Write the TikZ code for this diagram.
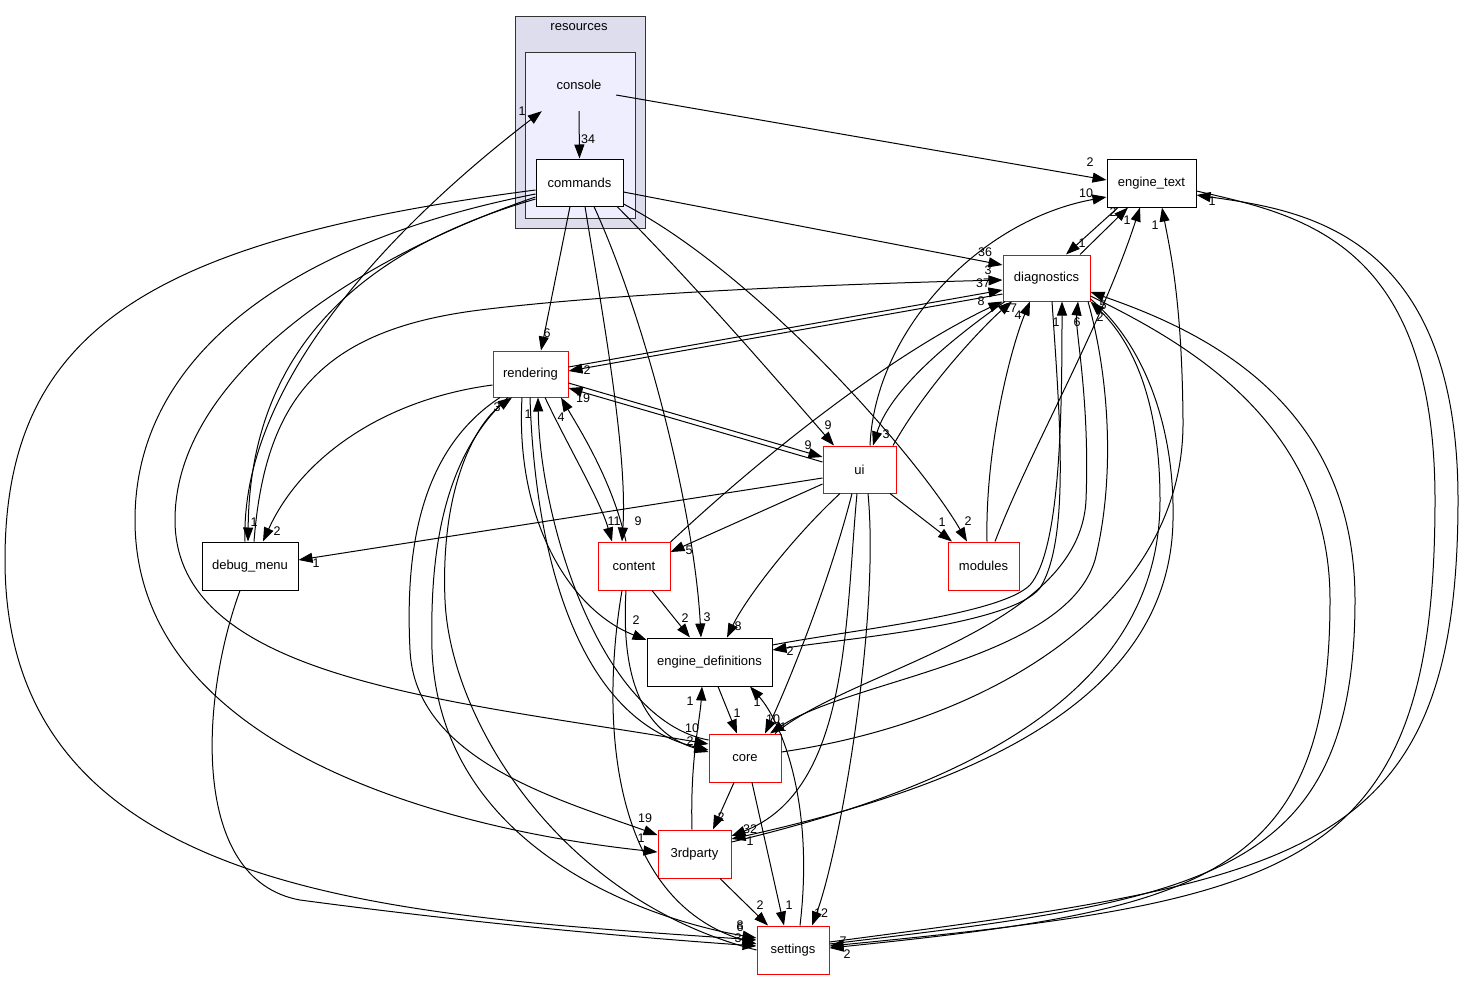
\documentclass[tikz,border=0pt]{standalone}
\usepackage{fontspec}
\setmainfont{Liberation Sans}
\usetikzlibrary{arrows.meta}
\newcommand\nodefont{\fontsize{13}{15}\selectfont}
\newcommand\labfont{\fontsize{12.5}{14}\selectfont}
\definecolor{clusterA}{HTML}{DDDDEE}
\definecolor{clusterB}{HTML}{EEEEFF}
\definecolor{clusterLine}{HTML}{333333}
\begin{document}
\begin{tikzpicture}[x=1pt,y=-1pt,
  box/.style={draw=black, line width=1pt, fill=white, minimum height=47pt, inner sep=0pt, font=\nodefont},
  rbox/.style={box, draw=red},
  e/.style={-{Triangle[length=14pt,width=10pt]}, line width=1pt},
  lab/.style={font=\labfont, inner sep=0pt},
]
\useasboundingbox (0,0) rectangle (1464,980);
\fill[white] (0,0) rectangle (1464,980);
% clusters
\draw[fill=clusterA, draw=clusterLine, line width=0.9pt] (515,16) rectangle (645,228);
\node[font=\nodefont] (resources) at (579,27) {resources};
\draw[fill=clusterB, draw=clusterLine, line width=0.9pt] (525,52) rectangle (635,218);
\node[font=\nodefont, minimum width=74pt, minimum height=52pt, inner sep=0pt] (console) at (579,85) {console};
% nodes
\node[box, minimum width=87pt] (commands) at (579.5,182.5) {commands};
\node[box, minimum width=89pt, minimum height=48pt] (enginetext) at (1151.5,183) {engine\_text};
\node[rbox, minimum width=87pt, minimum height=46pt] (diagnostics) at (1046.5,278) {diagnostics};
\node[rbox, minimum width=75pt, minimum height=46pt] (rendering) at (530.5,374) {rendering};
\node[rbox, minimum width=73pt] (ui) at (859.5,469.5) {ui};
\node[box, minimum width=96pt, minimum height=48pt] (debugmenu) at (250,566) {debug\_menu};
\node[rbox, minimum width=72pt, minimum height=48pt] (content) at (634,566) {content};
\node[rbox, minimum width=71pt, minimum height=48pt] (modules) at (983.5,566) {modules};
\node[box, minimum width=125pt, minimum height=48pt] (enginedefs) at (709.5,662) {engine\_definitions};
\node[rbox, minimum width=72pt, minimum height=48pt] (core) at (745,758) {core};
\node[rbox, minimum width=73pt, minimum height=48pt] (thirdparty) at (694.5,854) {3rdparty};
\node[rbox, minimum width=72pt, minimum height=48pt] (settings) at (793,950) {settings};

% console edges
\draw[e] (console.south) -- (commands.north) node[lab] at (588,139) {34};
\draw[e] (console.east |- 0,95) -- (enginetext.west |- 0,180) node[lab] at (1090,162) {2};
\draw[e] (debugmenu.north -| 245,0) .. controls (240,380) and (400,220) .. (console.south west) node[lab] at (522,111) {1};

% commands edges
\draw[e] (commands.west |- 0,199) .. controls (360,250) and (250,350) .. (debugmenu.north -| 248,0) node[lab] at (254,522) {1};
\draw[e] (commands.west |- 0,190) .. controls (150,240) and (5,330) .. (5,560) .. controls (5,900) and (400,915) .. (settings.west |- 0,940) node[lab] at (740,927) {6};
\draw[e] (commands.west |- 0,194) .. controls (300,240) and (135,350) .. (135,520) .. controls (135,750) and (450,830) .. (thirdparty.west |- 0,852) node[lab] at (641,838) {1};
\draw[e] (commands.west |- 0,197) .. controls (350,260) and (175,380) .. (175,520) .. controls (175,680) and (450,700) .. (core.west |- 0,744) node[lab] at (692,728) {10};
\draw[e] (commands.south -| 570,0) -- (rendering.north -| 541,0) node[lab] at (547,333) {6};
\draw[e] (commands.south -| 585,0) .. controls (600,300) and (628,450) .. (content.north -| 622,0) node[lab] at (638,521) {9};
\draw[e] (commands.south -| 594,0) .. controls (650,330) and (695,520) .. (enginedefs.north -| 701,0) node[lab] at (707,617) {3};
\draw[e] (commands.south -| 617,0) .. controls (700,290) and (790,395) .. (ui.north -| 834,0) node[lab] at (828,425) {9};
\draw[e] (commands.east |- 0,204) .. controls (760,275) and (920,460) .. (modules.north -| 967,0) node[lab] at (968,521) {2};
\draw[e] (commands.east |- 0,192) -- (diagnostics.west |- 0,265) node[lab] at (985,252) {36};

% debug_menu edges
\draw[e] (debugmenu.north -| 254,0) .. controls (265,400) and (320,330) .. (480,310) .. controls (600,295) and (800,285) .. (diagnostics.west |- 0,280) node[lab] at (988,270) {3};
\draw[e] (debugmenu.south -| 240,0) .. controls (200,700) and (190,880) .. (300,900) .. controls (450,920) and (600,935) .. (settings.west |- 0,946) node[lab] at (738,938) {3};

% rendering edges
\draw[e] (rendering.west |- 0,385) .. controls (380,400) and (300,460) .. (debugmenu.north -| 263,0) node[lab] at (277,531) {2};
\draw[e] (rendering.east |- 0,367) -- (diagnostics.west |- 0,290) node[lab] at (983,283) {37};
\draw[e] (diagnostics.west |- 0,294) -- (rendering.east |- 0,371) node[lab] at (587,370) {2};
\draw[e] (rendering.east |- 0,383) -- (ui.west |- 0,457) node[lab] at (808,445) {9};
\draw[e] (ui.west |- 0,462) -- (rendering.east |- 0,388) node[lab] at (583,398) {19};
\draw[e] (rendering.south -| 545,0) .. controls (570,450) and (600,500) .. (content.north -| 612,0) node[lab] at (614,521) {11};
\draw[e] (content.north -| 626,0) .. controls (612,480) and (580,430) .. (rendering.south -| 561,0) node[lab] at (561,417) {4};
\draw[e] (rendering.south -| 522,0) .. controls (515,520) and (570,610) .. (enginedefs.west |- 0,640) node[lab] at (636,620) {2};
\draw[e] (rendering.south -| 530,0) .. controls (535,560) and (580,720) .. (core.west |- 0,750) node[lab] at (690,741) {2};
\draw[e] (core.west |- 0,740) .. controls (600,720) and (540,520) .. (rendering.south -| 538,0) node[lab] at (528,414) {1};
\draw[e] (rendering.south -| 500,0) .. controls (420,450) and (405,550) .. (410,650) .. controls (415,760) and (560,800) .. (thirdparty.west |- 0,835) node[lab] at (645,818) {19};
\draw[e] (rendering.south -| 508,0) .. controls (440,460) and (430,560) .. (432,650) .. controls (440,850) and (650,920) .. (settings.west |- 0,938) node[lab] at (740,925) {8};
\draw[e] (settings.west |- 0,950) .. controls (560,900) and (450,720) .. (445,600) .. controls (440,480) and (480,420) .. (rendering.south -| 512,0) node[lab] at (497,407) {3};

% content edges
\draw[e] (content.north east |- 0,542) .. controls (780,440) and (900,350) .. (diagnostics.south west) node[lab] at (981,301) {8};
\draw[e] (content.south -| 652,0) -- (enginedefs.north -| 690,0) node[lab] at (685,618) {2};
\draw[e] (content.south -| 626,0) .. controls (620,690) and (650,735) .. (core.west |- 0,752);
\draw[e] (content.south -| 622,0) .. controls (600,720) and (610,900) .. (settings.west |- 0,944);

% ui edges
\draw[e] (ui.west |- 0,478) -- (debugmenu.east |- 0,560) node[lab] at (316,563) {1};
\draw[e] (ui.north -| 870,0) .. controls (875,330) and (980,220) .. (enginetext.west |- 0,197) node[lab] at (1086,193) {10};
\draw[e] (ui.north -| 893,0) .. controls (930,380) and (990,320) .. (diagnostics.south -| 1012,0) node[lab] at (1010,308) {17};
\draw[e] (diagnostics.south -| 1005,0) .. controls (950,340) and (890,390) .. (ui.north -| 873,0) node[lab] at (886,434) {3};
\draw[e] (ui.west |- 0,484) -- (content.east |- 0,552) node[lab] at (689,550) {5};
\draw[e] (ui.south -| 840,0) .. controls (790,540) and (745,600) .. (enginedefs.north -| 727,0) node[lab] at (738,626) {8};
\draw[e] (ui.south -| 890,0) -- (modules.north -| 952,0) node[lab] at (942,522) {1};
\draw[e] (ui.south -| 852,0) .. controls (830,580) and (790,680) .. (core.north -| 765,0) node[lab] at (773,719) {10};
\draw[e] (ui.south -| 857,0) .. controls (845,620) and (850,790) .. (thirdparty.east |- 0,836) node[lab] at (750,829) {32};
\draw[e] (ui.south -| 868,0) .. controls (880,620) and (840,850) .. (settings.north -| 812,0) node[lab] at (821,913) {12};

% diagnostics <-> engine_text
\draw[e] (diagnostics.north -| 1080,0) -- (enginetext.south -| 1128,0) node[lab] at (1113,212) {2};
\draw[e] (enginetext.south -| 1118,0) -- (diagnostics.north -| 1066,0) node[lab] at (1082,243) {1};
\draw[e] (modules.north -| 995,0) .. controls (1030,450) and (1100,330) .. (enginetext.south -| 1140,0) node[lab] at (1127,220) {1};
\draw[e] (core.east |- 0,752) .. controls (1000,720) and (1185,600) .. (1183,420) .. controls (1182,300) and (1170,250) .. (enginetext.south -| 1162,0) node[lab] at (1155,225) {1};
\draw[e] (settings.east |- 0,942) .. controls (1300,880) and (1458,860) .. (1458,500) .. controls (1458,230) and (1300,210) .. (enginetext.east |- 0,195) node[lab] at (1212,201) {1};
\draw[e] (enginetext.east |- 0,191) .. controls (1300,215) and (1435,240) .. (1435,500) .. controls (1435,870) and (1300,900) .. (settings.east |- 0,946) node[lab] at (847,954) {2};
\draw[e] (settings.east |- 0,944) .. controls (1200,900) and (1355,880) .. (1355,600) .. controls (1355,400) and (1200,330) .. (diagnostics.east |- 0,292) node[lab] at (1103,305) {5};
\draw[e] (diagnostics.east |- 0,296) .. controls (1180,340) and (1330,420) .. (1330,600) .. controls (1330,880) and (1200,910) .. (settings.east |- 0,948) node[lab] at (843,941) {7};

% modules -> diagnostics
\draw[e] (modules.north -| 987,0) .. controls (985,450) and (1010,350) .. (diagnostics.south -| 1030,0) node[lab] at (1018,315) {4};

% engine_definitions <-> diagnostics
\draw[e] (enginedefs.east |- 0,645) .. controls (850,630) and (1000,615) .. (1030,585) .. controls (1060,550) and (1062,420) .. (diagnostics.south -| 1062,0) node[lab] at (1056,322) {1};
\draw[e] (diagnostics.south -| 1052,0) .. controls (1060,420) and (1070,540) .. (1040,588) .. controls (1010,625) and (850,638) .. (enginedefs.east |- 0,650) node[lab] at (790,651) {2};

% core <-> diagnostics
\draw[e] (core.north -| 775,0) .. controls (850,670) and (1080,630) .. (1086,500) .. controls (1090,400) and (1075,330) .. (diagnostics.south -| 1078,0) node[lab] at (1077,322) {6};
\draw[e] (diagnostics.south -| 1088,0) .. controls (1110,380) and (1115,480) .. (1095,560) .. controls (1065,660) and (850,680) .. (core.north -| 770,0) node[lab] at (783,727) {1};

% 3rdparty <-> diagnostics
\draw[e] (thirdparty.east |- 0,842) .. controls (950,790) and (1160,700) .. (1160,500) .. controls (1160,380) and (1120,330) .. (diagnostics.south east) node[lab] at (1100,317) {2};
\draw[e] (diagnostics.east |- 0,299) .. controls (1140,340) and (1175,420) .. (1173,520) .. controls (1170,710) and (950,790) .. (thirdparty.east |- 0,839) node[lab] at (750,841) {1};

% lower part
\draw[e] (enginedefs.south -| 718,0) -- (core.north -| 737,0) node[lab] at (737,713) {1};
\draw[e] (thirdparty.north -| 692,0) .. controls (690,760) and (700,720) .. (enginedefs.south -| 702,0) node[lab] at (690,701) {1};
\draw[e] (settings.north -| 800,0) .. controls (815,800) and (780,720) .. (enginedefs.south -| 750,0) node[lab] at (757,702) {1};
\draw[e] (core.south -| 734,0) -- (thirdparty.north -| 713,0) node[lab] at (721,817) {2};
\draw[e] (core.south -| 752,0) -- (settings.north -| 784,0) node[lab] at (789,905) {1};
\draw[e] (thirdparty.south -| 720,0) -- (settings.north -| 768,0) node[lab] at (760,905) {2};
\end{tikzpicture}
\end{document}
